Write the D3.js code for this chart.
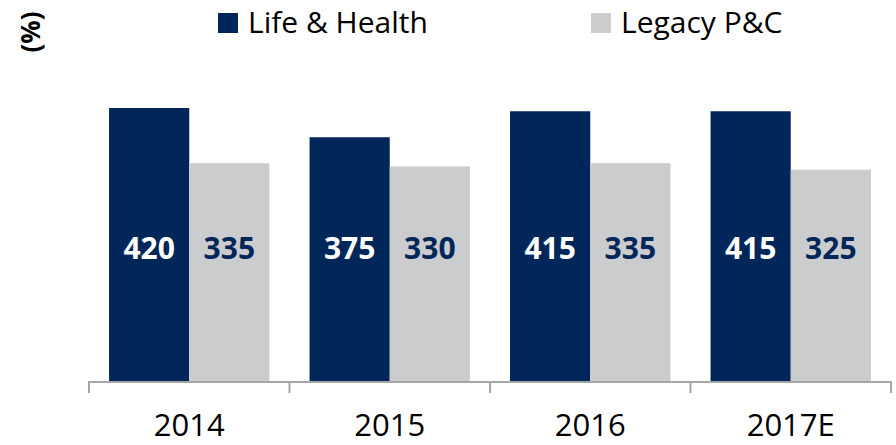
<!DOCTYPE html>
<html><head><meta charset="utf-8">
<script src="https://cdn.jsdelivr.net/npm/d3@7"></script>
<style>body{margin:0;background:#fff}svg{display:block}</style>
</head><body>
<script>
const categories = ["2014", "2015", "2016", "2017E"];
const seriesNames = ["Life & Health", "Legacy P&C"];
const lifeHealth = [420, 375, 415, 415];
const legacyPC = [335, 330, 335, 325];
const unitLabel = "(%)";

const W = 896, H = 445;
const colors = ["#00265a", "#cbcccd"];
const labelColors = ["#ffffff", "#00265a"];
const FONT = "'Open Sans', sans-serif";

const svg = d3.select("body").append("svg").attr("width", W).attr("height", H);

const x = d3.scaleBand().domain(categories).range([89, 891]).paddingInner(0).paddingOuter(0);
const xs = d3.scaleBand().domain(seriesNames).range([0, x.bandwidth()]).paddingInner(0).paddingOuter(0.25);
const y = d3.scaleLinear().domain([0, 450]).range([381, 381 - 450 * 0.65]);

const data = categories.map((c, i) => ({cat: c, vals: [lifeHealth[i], legacyPC[i]]}));

const g = svg.selectAll("g.grp").data(data).join("g").attr("class", "grp")
  .attr("transform", d => `translate(${x(d.cat)},0)`);

g.selectAll("rect").data(d => d.vals.map((v, j) => ({v, j})))
  .join("rect")
  .attr("x", d => xs(seriesNames[d.j]))
  .attr("width", xs.bandwidth())
  .attr("y", d => y(d.v))
  .attr("height", d => y(0) - y(d.v))
  .attr("fill", d => colors[d.j]);

g.selectAll("text.val").data(d => d.vals.map((v, j) => ({v, j})))
  .join("text").attr("class", "val")
  .attr("x", d => xs(seriesNames[d.j]) + xs.bandwidth() / 2)
  .attr("y", y(0) - 122)
  .attr("text-anchor", "middle")
  .attr("font-family", FONT).attr("font-weight", 700).attr("font-size", 30)
  .attr("fill", d => labelColors[d.j])
  .text(d => d.v);

// axis
const axis = d3.axisBottom(x).tickSize(11).tickSizeOuter(11).tickFormat("");
const ag = svg.append("g").attr("transform", `translate(0,${382})`).call(axis);
ag.select(".domain").attr("stroke", "#a6a6a6").attr("stroke-width", 2)
  .attr("d", `M${x.range()[0]},11V0H${x.range()[1]}V11`);
ag.selectAll(".tick").remove();
// boundary ticks between categories
const bounds = categories.map(c => x(c)).concat([x.range()[1]]);
ag.selectAll("line.b").data(bounds).join("line").attr("class", "b")
  .attr("x1", d => d).attr("x2", d => d).attr("y1", 0).attr("y2", 11)
  .attr("stroke", "#a6a6a6").attr("stroke-width", 2);

svg.selectAll("text.cat").data(categories).join("text").attr("class", "cat")
  .attr("x", d => x(d) + x.bandwidth() / 2)
  .attr("y", 436)
  .attr("text-anchor", "middle")
  .attr("font-family", FONT).attr("font-size", 31).attr("fill", "#000")
  .text(d => d);

// legend
const legX = [218, 591];
const leg = svg.selectAll("g.leg").data(seriesNames).join("g").attr("class", "leg")
  .attr("transform", (d, i) => `translate(${legX[i]},13)`);
leg.append("rect").attr("width", 20).attr("height", 20).attr("fill", (d, i) => colors[i]);
leg.append("text").attr("x", 30).attr("y", 20)
  .attr("font-family", FONT).attr("font-size", 30).attr("fill", "#000")
  .text(d => d);

// unit label
svg.append("text")
  .attr("transform", "translate(40,32) rotate(-90)")
  .attr("text-anchor", "middle")
  .attr("font-family", FONT).attr("font-weight", 700).attr("font-size", 26).attr("fill", "#000")
  .text(unitLabel);
</script>
</body></html>
